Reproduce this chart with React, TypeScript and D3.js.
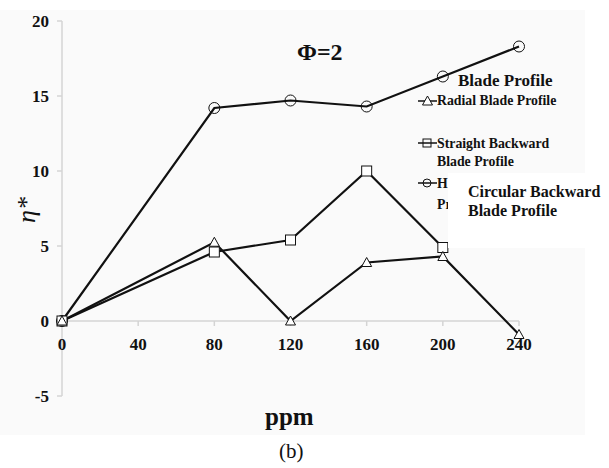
import React from "react";
import * as d3 from "d3";

const xValues = [0, 80, 120, 160, 200, 240];
const radial = [0, 5.25, 0, 3.9, 4.3, -0.9];
const straightX = [0, 80, 120, 160, 200];
const straight = [0, 4.6, 5.4, 10, 4.9];
const circular = [0, 14.2, 14.7, 14.3, 16.3, 18.3];
const xTicks = [0, 40, 80, 120, 160, 200, 240];
const yTicks = [-5, 0, 5, 10, 15, 20];

const W = 609, H = 468;
const font = "'Liberation Serif', 'Times New Roman', serif";

export default function App() {
  const x = d3.scaleLinear().domain([0, 240]).range([62, 519]);
  const y = d3.scaleLinear().domain([-5, 20]).range([396, 21]);
  const line = d3.line<[number, number]>().x(d => x(d[0])).y(d => y(d[1]));
  const rPts: [number, number][] = xValues.map((v, i) => [v, radial[i]]);
  const sPts: [number, number][] = straightX.map((v, i) => [v, straight[i]]);
  const cPts: [number, number][] = xValues.map((v, i) => [v, circular[i]]);
  const tri = (cx: number, cy: number, k: string) => (
    <path key={k} d={`M${cx},${cy - 5}L${cx + 5},${cy + 4}L${cx - 5},${cy + 4}Z`} fill="white" stroke="#111" strokeWidth={1} />
  );
  const sq = (cx: number, cy: number, k: string) => (
    <rect key={k} x={cx - 5} y={cy - 5} width={10} height={10} fill="white" stroke="#111" strokeWidth={1} />
  );
  const circ = (cx: number, cy: number, k: string) => (
    <circle key={k} cx={cx} cy={cy} r={5.5} fill="none" stroke="#111" strokeWidth={1} />
  );
  return (
    <svg width={W} height={H} style={{ position: "absolute", left: 0, top: 0, background: "white" }}>
      <rect x={0} y={10} width={585} height={425} fill="#fafafa" />
      {/* axes */}
      <line x1={x(0)} x2={x(0)} y1={y(20)} y2={y(-5)} stroke="#d4d4d4" strokeWidth={1.5} />
      <line x1={x(0)} x2={x(240)} y1={y(0)} y2={y(0)} stroke="#d4d4d4" strokeWidth={1.5} />
      {yTicks.map(t => (
        <g key={"y" + t}>
          <line x1={x(0) - 5} x2={x(0)} y1={y(t)} y2={y(t)} stroke="#d4d4d4" strokeWidth={1.5} />
          <text x={x(0) - 13} y={y(t) + 6} textAnchor="end" fontFamily={font} fontWeight="bold" fontSize={17} fill="#111">{t}</text>
        </g>
      ))}
      {xTicks.map(t => (
        <g key={"x" + t}>
          <line x1={x(t)} x2={x(t)} y1={y(0)} y2={y(0) + 5} stroke="#d4d4d4" strokeWidth={1.5} />
          <text x={x(t)} y={y(0) + 29} textAnchor="middle" fontFamily={font} fontWeight="bold" fontSize={17} fill="#111">{t}</text>
        </g>
      ))}
      {/* lines */}
      <path d={line(cPts) || ""} fill="none" stroke="#111" strokeWidth={2.2} />
      <path d={line(sPts) || ""} fill="none" stroke="#111" strokeWidth={2.2} />
      <path d={line(rPts) || ""} fill="none" stroke="#111" strokeWidth={2.2} />
      {cPts.map((p, i) => circ(x(p[0]), y(p[1]), "c" + i))}
      {sPts.map((p, i) => sq(x(p[0]), y(p[1]), "s" + i))}
      {rPts.map((p, i) => tri(x(p[0]), y(p[1]), "r" + i))}
      {/* title */}
      <text x={297} y={60} fontFamily={font} fontWeight="bold" fontSize={24} fill="#111">Φ=2</text>
      {/* legend */}
      <text x={458} y={86} fontFamily={font} fontWeight="bold" fontSize={17} fill="#111">Blade Profile</text>
      <line x1={418} x2={437} y1={101} y2={101} stroke="#111" strokeWidth={1.5} />
      {tri(427.5, 101, "lt")}
      <text x={437} y={105} fontFamily={font} fontWeight="bold" fontSize={13.8} fill="#111">Radial Blade Profile</text>
      <line x1={418} x2={437} y1={143} y2={143} stroke="#111" strokeWidth={1.5} />
      <rect x={423} y={139} width={8} height={8} fill="none" stroke="#111" strokeWidth={1} />
      <text x={437} y={148} fontFamily={font} fontWeight="bold" fontSize={13.8} fill="#111">Straight Backward</text>
      <text x={437} y={166} fontFamily={font} fontWeight="bold" fontSize={13.8} fill="#111">Blade Profile</text>
      <line x1={418} x2={437} y1={183} y2={183} stroke="#111" strokeWidth={1.5} />
      <circle cx={427} cy={183} r={4} fill="none" stroke="#111" strokeWidth={1} />
      <text x={437} y={188} fontFamily={font} fontWeight="bold" fontSize={13.8} fill="#111">H</text>
      <text x={437} y={209} fontFamily={font} fontWeight="bold" fontSize={13.8} fill="#111">Pr</text>
      <rect x={448} y={173} width={137} height={75} fill="white" />
      <text x={468} y={197} fontFamily={font} fontWeight="bold" fontSize={16} fill="#111">Circular Backward</text>
      <text x={468} y={216} fontFamily={font} fontWeight="bold" fontSize={16} fill="#111">Blade Profile</text>
      {/* axis titles */}
      <text x={265} y={425} fontFamily={font} fontWeight="bold" fontSize={25} fill="#111">ppm</text>
      <text x={279} y={458} fontFamily={font} fontSize={21} fill="#111">(b)</text>
      <text transform="translate(35,210) rotate(-90)" textAnchor="middle" fontFamily={font} fontStyle="italic" fontSize={26} fill="#111">η*</text>
    </svg>
  );
}
